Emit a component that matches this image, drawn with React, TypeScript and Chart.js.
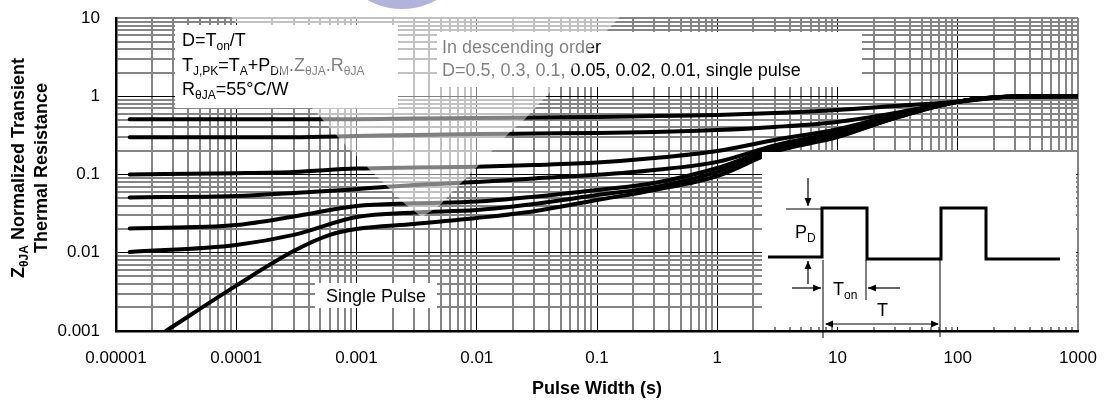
import { useEffect, useRef } from 'react';
import { Chart, registerables } from 'chart.js';

Chart.register(...registerables);

const FONT = '"Liberation Sans", Arial, Helvetica, sans-serif';

const xDecadeLabels = ['0.00001', '0.0001', '0.001', '0.01', '0.1', '1', '10', '100', '1000'];
const yDecadeLabels = ['0.001', '0.01', '0.1', '1', '10'];

const pulseWidths = [1.3e-5, 1e-4, 3e-4, 1e-3, 3e-3, 1e-2, 3e-2, 0.1, 0.3, 1, 3, 10, 30, 100, 300, 1000];
const zD05 = [0.51, 0.51, 0.51, 0.51, 0.52, 0.527, 0.535, 0.543, 0.56, 0.576, 0.61, 0.667, 0.75, 0.85, 0.99, 1.0];
const zD03 = [0.3, 0.3, 0.3, 0.31, 0.32, 0.329, 0.334, 0.339, 0.349, 0.37, 0.405, 0.47, 0.61, 0.85, 0.99, 1.0];
const zD01 = [0.1, 0.104, 0.108, 0.119, 0.123, 0.126, 0.132, 0.142, 0.162, 0.2, 0.276, 0.38, 0.58, 0.85, 0.99, 1.0];
const zD005 = [0.051, 0.053, 0.058, 0.065, 0.0735, 0.08, 0.089, 0.099, 0.114, 0.145, 0.235, 0.35, 0.56, 0.85, 0.99, 1.0];
const zD002 = [0.0204, 0.0226, 0.029, 0.0396, 0.0428, 0.0451, 0.052, 0.0634, 0.078, 0.121, 0.22, 0.33, 0.545, 0.85, 0.99, 1.0];
const zD001 = [0.0102, 0.0126, 0.0169, 0.0286, 0.0327, 0.0352, 0.042, 0.0547, 0.069, 0.108, 0.21, 0.31, 0.527, 0.85, 0.99, 1.0];

const singlePulseWidths = [2.6e-5, 1e-4, 3e-4, 6e-4, 1e-3, 3e-3, 1e-2, 3e-2, 0.1, 0.3, 1, 3, 10, 30, 100, 300, 1000];
const zSingle = [0.001, 0.0038, 0.0105, 0.0169, 0.0201, 0.0233, 0.0278, 0.034, 0.0472, 0.0634, 0.0957, 0.195, 0.3, 0.527, 0.85, 0.99, 1.0];

const seriesNames = ['D=0.5', 'D=0.3', 'D=0.1', 'D=0.05', 'D=0.02', 'D=0.01', 'Single Pulse'];

function logTicks(minExp: number, maxExp: number) {
  const out: number[] = [];
  for (let e = minExp; e < maxExp; e++) {
    for (let s = 1; s <= 9; s++) out.push(Number((s * Math.pow(10, e)).toPrecision(3)));
  }
  out.push(Math.pow(10, maxExp));
  return out;
}
const xTickValues = logTicks(-5, 3);
const yTickValues = logTicks(-3, 1);

function isDecade(v: number) {
  const l = Math.log10(v);
  return Math.abs(l - Math.round(l)) < 1e-6;
}

type Part = { t: string; sub?: boolean };

function richWidth(ctx: CanvasRenderingContext2D, parts: Part[], size: number, subSize: number, bold = false) {
  let w = 0;
  for (const p of parts) {
    ctx.font = `${bold ? 'bold ' : ''}${p.sub ? subSize : size}px ${FONT}`;
    w += ctx.measureText(p.t).width;
  }
  return w;
}

function rich(ctx: CanvasRenderingContext2D, x: number, y: number, parts: Part[], size: number, subSize: number, bold = false) {
  let cx = x;
  ctx.textAlign = 'left';
  ctx.textBaseline = 'alphabetic';
  for (const p of parts) {
    ctx.font = `${bold ? 'bold ' : ''}${p.sub ? subSize : size}px ${FONT}`;
    ctx.fillText(p.t, cx, y + (p.sub ? 4 : 0));
    cx += ctx.measureText(p.t).width;
  }
  return cx;
}

function line(ctx: CanvasRenderingContext2D, pts: number[][], w: number) {
  ctx.lineWidth = w;
  ctx.beginPath();
  ctx.moveTo(pts[0][0], pts[0][1]);
  for (let i = 1; i < pts.length; i++) ctx.lineTo(pts[i][0], pts[i][1]);
  ctx.stroke();
}

function arrowHead(ctx: CanvasRenderingContext2D, x1: number, y1: number, x2: number, y2: number) {
  const a = Math.atan2(y2 - y1, x2 - x1);
  const L = 8, H = 3.5;
  ctx.beginPath();
  ctx.moveTo(x2, y2);
  ctx.lineTo(x2 - L * Math.cos(a) + H * Math.sin(a), y2 - L * Math.sin(a) - H * Math.cos(a));
  ctx.lineTo(x2 - L * Math.cos(a) - H * Math.sin(a), y2 - L * Math.sin(a) + H * Math.cos(a));
  ctx.closePath();
  ctx.fill();
}

function arrow(ctx: CanvasRenderingContext2D, x1: number, y1: number, x2: number, y2: number) {
  line(ctx, [[x1, y1], [x2, y2]], 1.2);
  arrowHead(ctx, x1, y1, x2, y2);
}

const overlayPlugin = {
  id: 'overlay',
  afterDraw(chart: any) {
    const ctx: CanvasRenderingContext2D = chart.ctx;
    const a = chart.chartArea;
    ctx.save();

    // white annotation boxes
    ctx.fillStyle = '#ffffff';
    ctx.fillRect(175, 25, 223, 83);
    ctx.fillRect(437, 32, 425, 55);
    ctx.fillRect(315, 283, 122, 25);
    ctx.fillRect(762, 152, a.right - 2 - 762, a.bottom - 4 - 152);

    ctx.fillStyle = '#000000';
    rich(ctx, 182, 46, [{ t: 'D=T' }, { t: 'on', sub: true }, { t: '/T' }], 18, 12);
    rich(ctx, 182, 71, [
      { t: 'T' }, { t: 'J,PK', sub: true }, { t: '=T' }, { t: 'A', sub: true }, { t: '+P' }, { t: 'DM', sub: true },
      { t: '.Z' }, { t: 'θJA', sub: true }, { t: '.R' }, { t: 'θJA', sub: true },
    ], 18, 12);
    rich(ctx, 182, 95, [{ t: 'R' }, { t: 'θJA', sub: true }, { t: '=55°C/W' }], 18, 12);

    rich(ctx, 442, 53, [{ t: 'In descending order' }], 18, 12);
    rich(ctx, 442, 76, [{ t: 'D=0.5, 0.3, 0.1, 0.05, 0.02, 0.01, single pulse' }], 18, 12);

    ctx.font = `18px ${FONT}`;
    ctx.textAlign = 'center';
    ctx.textBaseline = 'alphabetic';
    ctx.fillText('Single Pulse', 376, 302);

    // translucent watermark cone
    ctx.fillStyle = 'rgba(255,255,255,0.5)';
    ctx.beginPath();
    const cone = [
      [216, 0], [276, 68], [322, 119], [338, 137], [372, 172], [388, 187], [405, 204], [422, 217],
      [440, 205], [458, 186], [477, 167], [508, 134], [525, 119], [617, 20], [636, 0],
    ];
    ctx.moveTo(cone[0][0], cone[0][1]);
    for (const p of cone.slice(1)) ctx.lineTo(p[0], p[1]);
    ctx.closePath();
    ctx.fill();

    // lavender logo fragment at the top
    ctx.fillStyle = '#b1b3da';
    ctx.beginPath();
    ctx.arc(402, -61, 70, 0, Math.PI * 2);
    ctx.fill();

    // pulse diagram
    ctx.strokeStyle = '#000';
    ctx.fillStyle = '#000';
    ctx.lineJoin = 'miter';
    line(ctx, [[768, 257], [822, 257], [822, 208], [867, 208], [867, 259], [941, 259], [941, 208], [986, 208], [986, 259], [1060, 259]], 3);
    line(ctx, [[786, 209], [821, 209]], 1);
    arrow(ctx, 808, 178, 808, 206);
    arrow(ctx, 808, 284, 808, 261);
    line(ctx, [[823, 260], [823, 338]], 1);
    line(ctx, [[866, 260], [866, 300]], 1);
    line(ctx, [[940, 260], [940, 337]], 1);
    arrow(ctx, 792, 288, 821, 288);
    arrow(ctx, 900, 288, 868, 288);
    line(ctx, [[826, 324], [938, 324]], 1.2);
    arrowHead(ctx, 900, 324, 825, 324);
    arrowHead(ctx, 860, 324, 939, 324);
    ctx.fillStyle = '#000';
    rich(ctx, 795, 238, [{ t: 'P' }, { t: 'D', sub: true }], 18, 12);
    rich(ctx, 833, 295, [{ t: 'T' }, { t: 'on', sub: true }], 18, 12);
    rich(ctx, 877, 316, [{ t: 'T' }], 18, 12);

    // axis titles
    ctx.fillStyle = '#000';
    const xTitle: Part[] = [{ t: 'Pulse Width (s)' }];
    const xw = richWidth(ctx, xTitle, 18, 12, true);
    rich(ctx, (a.left + a.right) / 2 - xw / 2, 394, xTitle, 18, 12, true);

    const yTitle1: Part[] = [{ t: 'Z' }, { t: 'θJA', sub: true }, { t: ' Normalized Transient' }];
    const yTitle2: Part[] = [{ t: 'Thermal Resistance' }];
    const cy = 168;
    ctx.save();
    ctx.translate(24, cy);
    ctx.rotate(-Math.PI / 2);
    const w1 = richWidth(ctx, yTitle1, 18, 12, true);
    rich(ctx, -w1 / 2, 0, yTitle1, 18, 12, true);
    ctx.restore();
    ctx.save();
    ctx.translate(47, cy);
    ctx.rotate(-Math.PI / 2);
    const w2 = richWidth(ctx, yTitle2, 18, 12, true);
    rich(ctx, -w2 / 2, 0, yTitle2, 18, 12, true);
    ctx.restore();

    ctx.restore();
  },
};

function gridColor(maxVal: number) {
  return (c: any) => {
    const v = c.tick ? c.tick.value : 0;
    if (isDecade(v) && Math.abs(v - maxVal) > 1e-12) return '#000000';
    return '#858585';
  };
}
function gridWidth(maxVal: number) {
  return (c: any) => {
    const v = c.tick ? c.tick.value : 0;
    if (isDecade(v) && Math.abs(v - maxVal) > 1e-12) return 1;
    return 2;
  };
}

export default function App() {
  const ref = useRef<HTMLCanvasElement | null>(null);
  useEffect(() => {
    if (!ref.current) return;
    const mk = (xs: number[], ys: number[], label: string) => ({
      label,
      data: xs.map((x, i) => ({ x, y: ys[i] })),
      borderColor: '#000000',
      backgroundColor: '#000000',
      borderWidth: 4,
      pointRadius: 0,
      fill: false,
      cubicInterpolationMode: 'monotone' as const,
      borderCapStyle: 'round' as const,
    });
    const datasets = [
      mk(pulseWidths, zD05, seriesNames[0]),
      mk(pulseWidths, zD03, seriesNames[1]),
      mk(pulseWidths, zD01, seriesNames[2]),
      mk(pulseWidths, zD005, seriesNames[3]),
      mk(pulseWidths, zD002, seriesNames[4]),
      mk(pulseWidths, zD001, seriesNames[5]),
      mk(singlePulseWidths, zSingle, seriesNames[6]),
    ];
    const chart = new Chart(ref.current, {
      type: 'line',
      data: { datasets },
      plugins: [overlayPlugin],
      options: {
        animation: false,
        responsive: false,
        layout: { padding: { top: 18, right: 26, left: 0, bottom: 0 } },
        plugins: { legend: { display: false }, tooltip: { enabled: false }, title: { display: false } },
        scales: {
          x: {
            type: 'logarithmic',
            position: 'bottom',
            min: 1e-5,
            max: 1000,
            afterBuildTicks: (s: any) => { s.ticks = xTickValues.map((v) => ({ value: v })); },
            afterFit: (s: any) => { s.height = 72; s.paddingLeft = 0; s.paddingRight = 0; },
            ticks: {
              autoSkip: false,
              maxRotation: 0,
              minRotation: 0,
              padding: 17,
              color: '#000',
              font: { family: FONT, size: 17 },
              callback: (v: any) => (isDecade(Number(v)) ? xDecadeLabels[Math.round(Math.log10(Number(v))) + 5] : ''),
            },
            grid: { color: gridColor(1000), lineWidth: gridWidth(1000), drawTicks: false },
            border: { color: '#000', width: 2.5 },
          },
          y: {
            type: 'logarithmic',
            position: 'left',
            min: 0.001,
            max: 10,
            afterBuildTicks: (s: any) => { s.ticks = yTickValues.map((v) => ({ value: v })); },
            afterFit: (s: any) => { s.width = 116; s.paddingTop = 0; s.paddingBottom = 0; },
            ticks: {
              autoSkip: false,
              padding: 16,
              color: '#000',
              font: { family: FONT, size: 17 },
              callback: (v: any) => (isDecade(Number(v)) ? yDecadeLabels[Math.round(Math.log10(Number(v))) + 3] : ''),
            },
            grid: { color: gridColor(10), lineWidth: gridWidth(10), drawTicks: false },
            border: { color: '#000', width: 2.5 },
          },
        },
      },
    });
    return () => chart.destroy();
  }, []);
  return (
    <div style={{ position: 'absolute', left: 0, top: 0, width: 1104, height: 403, background: '#fff' }}>
      <canvas ref={ref} width={1104} height={403} style={{ display: 'block' }} />
    </div>
  );
}
